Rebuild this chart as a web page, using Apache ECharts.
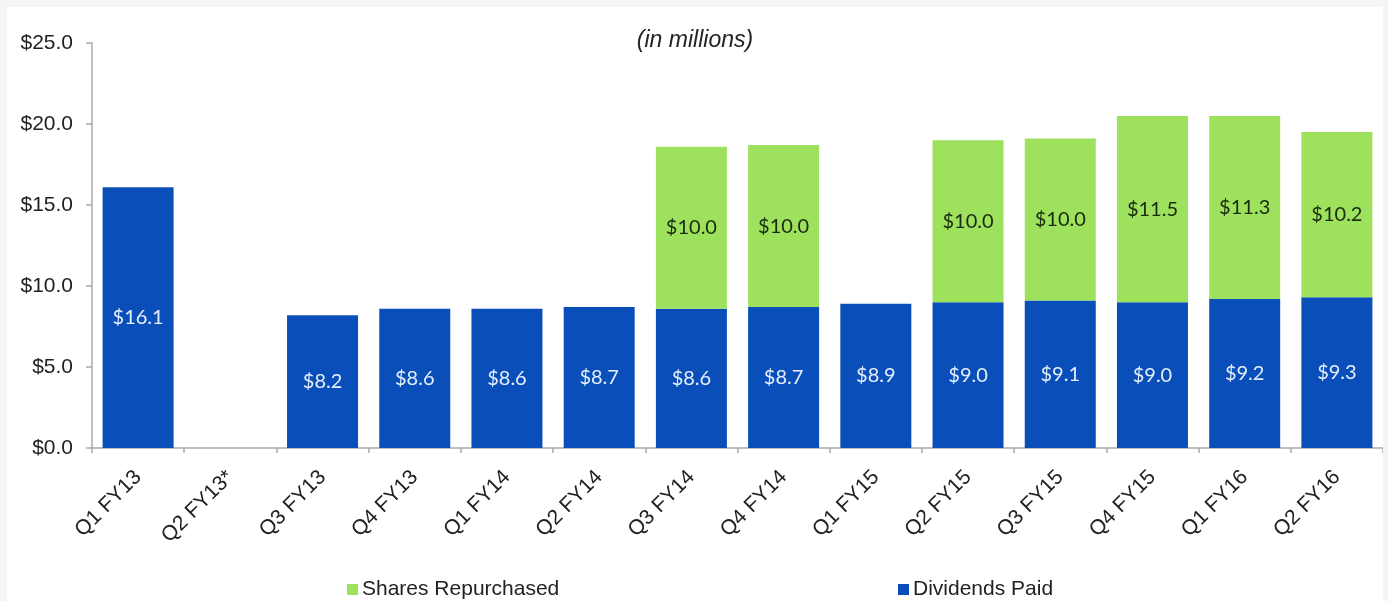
<!DOCTYPE html>
<html>
<head>
<meta charset="utf-8">
<script src="https://cdn.jsdelivr.net/npm/echarts@6/dist/echarts.min.js"></script>
<style>
  html, body { margin: 0; padding: 0; background: #f5f5f5; }
  #chart {
    position: absolute;
    left: 7px;
    top: 7px;
    width: 1376px;
    height: 594px;
    background: #ffffff;
  }
</style>
</head>
<body>
<div id="chart"></div>
<script>
const categories = [
  "Q1 FY13", "Q2 FY13*", "Q3 FY13", "Q4 FY13", "Q1 FY14", "Q2 FY14", "Q3 FY14",
  "Q4 FY14", "Q1 FY15", "Q2 FY15", "Q3 FY15", "Q4 FY15", "Q1 FY16", "Q2 FY16"
];
const dividendsPaid = [16.1, null, 8.2, 8.6, 8.6, 8.7, 8.6, 8.7, 8.9, 9.0, 9.1, 9.0, 9.2, 9.3];
const sharesRepurchased = [null, null, null, null, null, null, 10.0, 10.0, null, 10.0, 10.0, 11.5, 11.3, 10.2];

const axisFont = "'Liberation Sans', Arial, sans-serif";
const labelFont = "Lato, 'Open Sans', sans-serif";

let myChart = echarts.init(document.getElementById("chart"));
let option = {
  animation: false,
  title: {
    text: "(in millions)",
    left: "center",
    top: 17,
    textStyle: {
      fontFamily: axisFont,
      fontStyle: "italic",
      fontWeight: "normal",
      fontSize: 23,
      color: "#222",
    },
  },
  grid: {
    left: 85,
    right: 0,
    top: 36,
    bottom: 153,
  },
  legend: [
    {
      data: ["Shares Repurchased"],
      left: 335,
      top: 567,
      icon: "rect",
      itemWidth: 11,
      itemHeight: 11,
      textStyle: { fontFamily: axisFont, fontSize: 21, color: "#222", padding: [0, 0, 0, -1] },
    },
    {
      data: ["Dividends Paid"],
      left: 886,
      top: 567,
      icon: "rect",
      itemWidth: 11,
      itemHeight: 11,
      textStyle: { fontFamily: axisFont, fontSize: 21, color: "#222", padding: [0, 0, 0, -1] },
    },
  ],
  xAxis: {
    type: "category",
    data: categories,
    axisLine: { lineStyle: { color: "#aaa", width: 1.5 } },
    axisTick: { show: true, length: 5, lineStyle: { color: "#aaa", width: 1.5 } },
    axisLabel: {
      rotate: 45,
      interval: 0,
      margin: 26,
      fontFamily: axisFont,
      fontSize: 21,
      color: "#222",
    },
  },
  yAxis: {
    type: "value",
    min: 0,
    max: 25,
    interval: 5,
    splitLine: { show: false },
    axisLine: { show: true, lineStyle: { color: "#aaa", width: 1.5 } },
    axisTick: { show: true, length: 6, lineStyle: { color: "#aaa", width: 1.5 } },
    axisLabel: {
      margin: 19,
      fontFamily: axisFont,
      fontSize: 21,
      color: "#222",
      formatter: (v) => "$" + v.toFixed(1),
    },
  },
  series: [
    {
      name: "Dividends Paid",
      type: "bar",
      stack: "total",
      barCategoryGap: "23%",
      data: dividendsPaid,
      itemStyle: { color: "#0a4fb9" },
      label: {
        show: true,
        position: "inside",
        formatter: (p) => "$" + p.value.toFixed(1),
        fontFamily: labelFont,
        fontSize: 20,
        color: "#e4eefc",
      },
    },
    {
      name: "Shares Repurchased",
      type: "bar",
      stack: "total",
      data: sharesRepurchased,
      itemStyle: { color: "#9de15d" },
      label: {
        show: true,
        position: "inside",
        formatter: (p) => "$" + p.value.toFixed(1),
        fontFamily: labelFont,
        fontSize: 20,
        color: "#1a2a10",
      },
    },
  ],
};
myChart.setOption(option);
</script>
</body>
</html>
